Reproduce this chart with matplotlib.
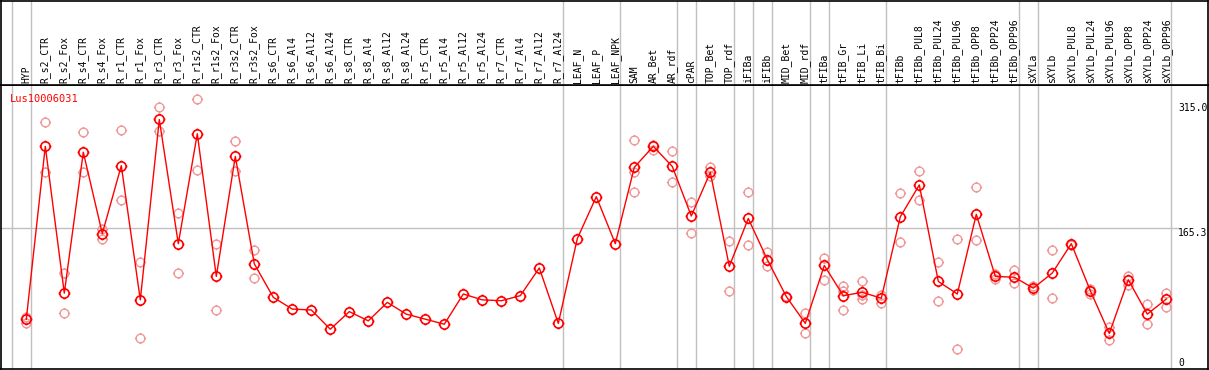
import numpy as np
import matplotlib
matplotlib.use("Agg")
import matplotlib.pyplot as plt
from matplotlib.path import Path

categories = ["HYP", "R_s2_CTR", "R_s2_Fox", "R_s4_CTR", "R_s4_Fox", "R_r1_CTR", "R_r1_Fox",
              "R_r3_CTR", "R_r3_Fox", "R_r1s2_CTR", "R_r1s2_Fox", "R_r3s2_CTR", "R_r3s2_Fox",
              "R_s6_CTR", "R_s6_Al4", "R_s6_Al12", "R_s6_Al24", "R_s8_CTR", "R_s8_Al4",
              "R_s8_Al12", "R_s8_Al24", "R_r5_CTR", "R_r5_Al4", "R_r5_Al12", "R_r5_Al24",
              "R_r7_CTR", "R_r7_Al4", "R_r7_Al12", "R_r7_Al24", "LEAF_N", "LEAF_P", "LEAF_NPK",
              "SAM", "AR_Bet", "AR_rdf", "cPAR", "TOP_Bet", "TOP_rdf", "iFIBa", "iFIBb",
              "MID_Bet", "MID_rdf", "tFIBa", "tFIB_Gr", "tFIB_Li", "tFIB_Bi", "tFIBb",
              "tFIBb_PUL8", "tFIBb_PUL24", "tFIBb_PUL96", "tFIBb_OPP8", "tFIBb_OPP24",
              "tFIBb_OPP96", "sXYLa", "sXYLb", "sXYLb_PUL8", "sXYLb_PUL24", "sXYLb_PUL96",
              "sXYLb_OPP8", "sXYLb_OPP24", "sXYLb_OPP96"]

mean_values = [57, 263, 88, 256, 159, 240, 80, 295, 147, 278, 108, 251, 123,
               83, 69, 68, 45, 66, 55, 77, 63, 57, 51, 87, 80, 79, 85, 118, 52,
               153, 203, 147, 238, 263, 239, 180, 232, 120, 177, 128, 84, 52, 121,
               85, 89, 82, 179, 217, 102, 87, 182, 108, 107, 94, 112, 147, 91, 40,
               104, 63, 81]

# replicate values: (category index, value)
rep_index = [0, 0, 1, 1, 2, 2, 3, 3, 4, 4, 5, 5, 6, 6, 7, 7, 8, 8, 9, 9, 10, 10, 11, 11, 12, 12,
             32, 32, 32, 33, 33, 34, 34, 35, 35, 36, 36, 37, 37, 38, 38, 39, 39, 40, 40,
             41, 41, 42, 42, 43, 43, 43, 44, 44, 44, 45, 45, 46, 46, 47, 47, 48, 48,
             49, 49, 50, 50, 51, 51, 52, 52, 53, 53, 54, 54, 55, 55, 56, 56, 57, 57,
             58, 58, 59, 59, 60, 60]
rep_values = [60, 52, 292, 232, 112, 64, 280, 232, 153, 164, 282, 199, 125, 34, 310, 281,
              184, 112, 320, 235, 147, 68, 269, 234, 140, 106,
              271, 232, 209, 265, 259, 258, 220, 197, 160, 238, 228, 150, 90, 209, 145,
              137, 120, 84, 85, 64, 41, 130, 104, 96, 68, 90, 103, 81, 86, 86, 76,
              207, 149, 234, 199, 125, 79, 152, 21, 214, 151, 111, 105, 116, 100,
              96, 92, 140, 82, 147, 145, 93, 87, 48, 32, 108, 98, 75, 51, 88, 72]

group_after = [-1, 0, 28, 31, 34, 35, 37, 38, 39, 41, 42, 45, 52, 53, 60]
ytick_values = [315.0, 165.3, 0]
title = "Lus10006031"

W, H = 1209, 370
fig = plt.figure(figsize=(W / 100, H / 100), dpi=100)

# pixel geometry
px0 = 26.3
dx = 19.0
ypix_zero = 367.0
scale = 0.839
top_hdr = 85.0
bot = 369.0

def fx(p):
    return p / W

def fy(p):
    return 1 - p / H

xlim = ((1 - px0) / dx, (1208 - px0) / dx)
ylim = ((ypix_zero - bot) / scale, (ypix_zero - top_hdr) / scale)

ax = fig.add_axes([fx(1), fy(bot), fx(1207), (bot - top_hdr) / H])
hdr = fig.add_axes([fx(1), fy(top_hdr), fx(1207), (top_hdr - 0.5) / H])

for a in (ax, hdr):
    a.set_xlim(*xlim)
    a.set_xticks([])
    a.set_yticks([])
    for s in a.spines.values():
        s.set_color("black")
        s.set_linewidth(1.2)
    for g in group_after:
        a.axvline(g + 0.23, color="#c0c0c0", lw=1.0, zorder=0)
ax.set_ylim(*ylim)
hdr.set_ylim(0, 1)

# header labels
mono = "DejaVu Sans Mono"
for i, c in enumerate(categories):
    hdr.text(i, 2 / top_hdr, c, rotation=90, ha="center", va="bottom",
             fontsize=7, family=mono, color="black")

# marker: circle with 4 short ticks
circ = Path.unit_circle()
verts = list(circ.vertices)
codes = list(circ.codes)
t = 1.28
for (a_, b_) in [((0, 1), (0, t)), ((0, -1), (0, -t)), ((1, 0), (t, 0)), ((-1, 0), (-t, 0))]:
    verts += [a_, b_]
    codes += [Path.MOVETO, Path.LINETO]
marker = Path(verts, codes)

x = np.arange(len(categories))
ax.axhline(ytick_values[1], xmin=0, xmax=(1178 - 1) / 1207, color="#c0c0c0", lw=1.0, zorder=0)

ax.plot(rep_index, rep_values, linestyle="none", marker=marker, markersize=8.0,
        markerfacecolor="none", markeredgecolor="#f09898", markeredgewidth=1.0, zorder=2)
ax.plot(x, mean_values, color="red", lw=1.0, marker=marker, markersize=8.5,
        markerfacecolor="none", markeredgecolor="red", markeredgewidth=1.2, zorder=3)

# y labels
xl = (1178 - px0) / dx
ax.text(xl, ytick_values[0], "315.0", ha="left", va="top", fontsize=7, family=mono, color="black")
ax.text(xl, ytick_values[1], "165.3", ha="left", va="top", fontsize=7, family=mono, color="black")
ax.text(xl, ylim[0] + 1.5, "0", ha="left", va="bottom", fontsize=7, family=mono, color="black")

ax.text(9 / 1207, 1 - 9 / (bot - top_hdr), title, transform=ax.transAxes, ha="left", va="top",
        fontsize=7.5, family=mono, color="red")

fig.savefig("out.png", dpi=100)
